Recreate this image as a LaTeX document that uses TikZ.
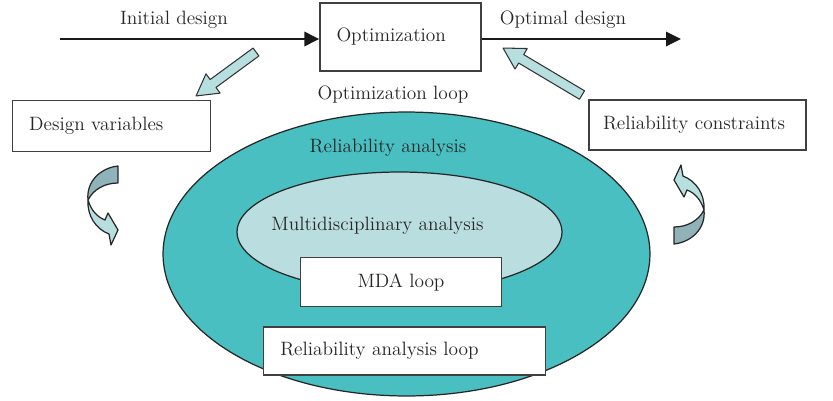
\documentclass[tikz,border=0pt]{standalone}
\usetikzlibrary{arrows.meta,calc}
\definecolor{raloop}{RGB}{73,191,194}
\definecolor{mdaloop}{RGB}{186,222,224}
\definecolor{blockfill}{RGB}{183,223,224}
\definecolor{twistdark}{RGB}{143,179,185}
\tikzset{
  lbl/.style={text=black!85,font=\fontsize{11}{13}\selectfont,inner sep=0pt},
  box/.style={lbl,draw=black!75,line width=.8pt,fill=white,inner xsep=.33cm,inner ysep=0pt,align=left},
  mainarr/.style={line width=1.7pt,black!90,-{Triangle[length=8.5pt,width=8pt]}},
  blockarr/.style={draw=black!80,line width=.6pt,fill=blockfill,line join=round},
  twist/.style={draw=black!85,line width=.7pt,line join=round},
}
% straight block arrow from #1 (tail) to #2 (tip)
\newcommand\blockarrow[2]{%
  \draw[blockarr] let \p1=($#2-#1$), \n1={atan2(\y1,\x1)}, \n2={veclen(\x1,\y1)}, \n3={veclen(\x1,\y1)-12} in
    [shift={#1},rotate=\n1] (0pt,-2.8pt) -- (\n3,-2.8pt) -- (\n3,-6.8pt) -- (\n2,0pt)
    -- (\n3,6.8pt) -- (\n3,2.8pt) -- (0pt,2.8pt) -- cycle;}
% curved twisted arrow
\newcommand\twistarrow{%
  \filldraw[twist,fill=twistdark] (118,166) .. controls (100,168) and (86,182) .. (88,200)
    .. controls (93,190) and (104,183) .. (118,183) -- cycle;
  \filldraw[twist,fill=blockfill] (88,200) .. controls (91,210) and (97,217) .. (105,220)
    -- (108,213) -- (118,230) -- (111,245) -- (109,234)
    .. controls (96,229) and (87,216) .. (88,200) -- cycle;}
\begin{document}
\begin{tikzpicture}[x=0.02cm,y=-0.02cm]
\useasboundingbox (0,0) rectangle (833,400);
% loops
\draw[twist,fill=raloop] (406.5,254) ellipse [x radius=4.87cm,y radius=2.84cm];
\draw[twist,fill=mdaloop] (399.5,232) ellipse [x radius=3.25cm,y radius=1.2cm];
\node[lbl] (ra) at (388,148) {Reliability analysis};
\node[lbl] (mda) at (377.5,225.5) {Multidisciplinary analysis};
\node[box,align=center,minimum width=4.02cm,minimum height=.97cm] (mdaloopbox) at (401,282) {MDA loop};
\node[box,text width=4.97cm,minimum height=.96cm] (raloopbox) at (404.5,351) {Reliability analysis loop};
% optimization
\node[box,text width=2.56cm,minimum height=1.36cm] (opt) at (400.5,37) {Optimization};
\node[lbl] (init) at (174,20) {Initial design};
\node[lbl] (optd) at (563,20) {Optimal design};
\node[lbl] (optloop) at (393,95) {Optimization loop};
\coordinate (in) at (60,39);
\coordinate (out) at (681,39);
\draw[mainarr] (in) -- (in -| opt.west);
\draw[mainarr] (opt.east |- out) -- (out);
% design variables and constraints
\node[box,text width=3.3cm,minimum height=1.02cm] (dv) at (111.7,126) {Design variables};
\node[box,inner xsep=.28cm,text width=3.78cm,minimum height=1cm] (rc) at (697.5,125) {Reliability constraints};
\blockarrow{(256,52)}{(196,96)}
\blockarrow{(582,95)}{(503,48)}
\twistarrow
\begin{scope}[rotate around={180:(396,205)}]
\twistarrow
\end{scope}
\end{tikzpicture}
\end{document}
